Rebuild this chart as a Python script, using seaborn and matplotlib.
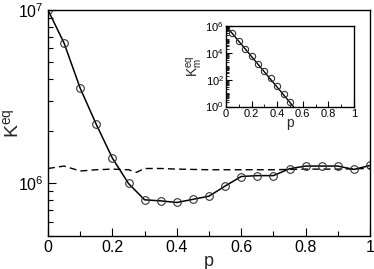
import numpy as np
import pandas as pd
import matplotlib
matplotlib.use("Agg")
import matplotlib.pyplot as plt
import matplotlib.ticker as mticker
import seaborn as sns

# ---- data ----
p_main = [0.0, 0.05, 0.10, 0.15, 0.20, 0.25, 0.30, 0.35, 0.40, 0.45, 0.50,
          0.55, 0.60, 0.65, 0.70, 0.75, 0.80, 0.85, 0.90, 0.95, 1.00]
k_main = [1.0e7, 6.44e6, 3.54e6, 2.19e6, 1.40e6, 1.0e6, 8.05e5, 7.94e5, 7.77e5,
          8.1e5, 8.45e5, 9.66e5, 1.097e6, 1.11e6, 1.11e6, 1.216e6, 1.26e6,
          1.26e6, 1.26e6, 1.205e6, 1.27e6]

p_dash = [0.0, 0.05, 0.10, 0.15, 0.20, 0.25, 0.275, 0.30, 0.35, 0.40, 0.50,
          0.60, 0.70, 0.80, 0.90, 1.00]
k_dash = [1.22e6, 1.26e6, 1.18e6, 1.20e6, 1.21e6, 1.20e6, 1.16e6, 1.22e6,
          1.22e6, 1.21e6, 1.20e6, 1.20e6, 1.20e6, 1.21e6, 1.21e6, 1.22e6]

p_inset = [0.0, 0.05, 0.10, 0.15, 0.20, 0.25, 0.30, 0.35, 0.40, 0.45, 0.50]
logk_inset = [5.87, 5.45, 4.88, 4.31, 3.74, 3.15, 2.64, 2.10, 1.55, 0.93, 0.36]
p_fit = [0.0, 0.55]
logk_fit = [6.0, -0.27]

x_ticks = [0, 0.2, 0.4, 0.6, 0.8, 1]
x_ticklabels = ["0", "0.2", "0.4", "0.6", "0.8", "1"]

sns.set_theme(style="white")
plt.rcParams["font.family"] = ["Liberation Sans", "DejaVu Sans"]
plt.rcParams["mathtext.default"] = "regular"

fig = plt.figure(figsize=(3.74, 2.69), dpi=100)
ax = fig.add_axes([48 / 374, 1 - 235.7 / 269, (370 - 48) / 374, (235.7 - 10) / 269])

df_main = pd.DataFrame({"p": p_main, "K": k_main})
df_dash = pd.DataFrame({"p": p_dash, "K": k_dash})

sns.lineplot(data=df_dash, x="p", y="K", ax=ax, color="black", lw=1.0,
             linestyle=(0, (5, 3)))
sns.lineplot(data=df_main, x="p", y="K", ax=ax, color="black", lw=1.1,
             marker="o", markersize=5.5, markerfacecolor="none",
             markeredgecolor="#333333", markeredgewidth=0.8)

ax.set_yscale("log")
ax.set_xlim(0, 1)
ax.set_ylim(5e5, 1e7)
ax.set_xticks(x_ticks)
ax.set_xticklabels(x_ticklabels)
ax.xaxis.set_minor_locator(mticker.MultipleLocator(0.1))
ax.yaxis.set_major_locator(mticker.LogLocator(base=10))
ax.yaxis.set_minor_locator(mticker.LogLocator(base=10, subs=np.arange(2, 10)))
ax.yaxis.set_minor_formatter(mticker.NullFormatter())
ax.tick_params(which="both", direction="in", left=True, bottom=True,
               top=False, right=False, colors="black", labelsize=11.5, pad=3)
ax.tick_params(which="major", length=6, width=0.8)
ax.tick_params(which="minor", length=3.5, width=0.8)
ax.set_xlabel("p", fontsize=13, labelpad=-1)
ax.set_ylabel("K$^{eq}$", fontsize=14)
ax.yaxis.set_label_coords(-0.08, 0.5)
for s in ax.spines.values():
    s.set_color("black")
    s.set_linewidth(1.0)

# ---- inset ----
axi = fig.add_axes([226 / 374, 1 - 106.5 / 269, (354 - 226) / 374, (106.5 - 26) / 269])
df_in = pd.DataFrame({"p": p_inset, "K": np.power(10.0, logk_inset)})
df_fit = pd.DataFrame({"p": p_fit, "K": np.power(10.0, logk_fit)})
sns.lineplot(data=df_fit, x="p", y="K", ax=axi, color="black", lw=1.0)
sns.lineplot(data=df_in, x="p", y="K", ax=axi, color="black", lw=0,
             marker="o", markersize=4.5, markerfacecolor="none",
             markeredgecolor="#333333", markeredgewidth=0.8)
axi.set_yscale("log")
axi.set_xlim(0, 1)
axi.set_ylim(1, 1e6)
axi.set_xticks(x_ticks)
axi.set_xticklabels(x_ticklabels)
axi.xaxis.set_minor_locator(mticker.MultipleLocator(0.1))
axi.yaxis.set_major_locator(mticker.FixedLocator([1, 1e2, 1e4, 1e6]))
axi.yaxis.set_major_formatter(mticker.LogFormatterMathtext())
axi.yaxis.set_minor_locator(mticker.LogLocator(base=10, subs=np.arange(1, 10), numticks=20))
axi.yaxis.set_minor_formatter(mticker.NullFormatter())
axi.tick_params(which="both", direction="in", left=True, bottom=True,
                top=False, right=False, colors="black", labelsize=8, pad=1.5)
axi.tick_params(which="major", length=4, width=0.8)
axi.tick_params(which="minor", length=2.5, width=0.6)
axi.set_xlabel("p", fontsize=10, labelpad=-1.5)
axi.set_ylabel("K$_{m}^{eq}$", fontsize=10, labelpad=0)
for s in axi.spines.values():
    s.set_color("black")
    s.set_linewidth(1.0)

fig.savefig("out.png", dpi=100)
